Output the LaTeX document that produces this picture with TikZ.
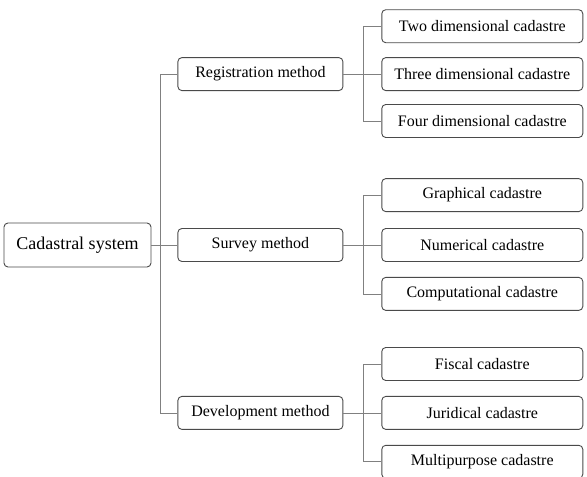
\documentclass[tikz,border=0pt]{standalone}
\usepackage{fontspec}
\setmainfont{Liberation Serif}
\usetikzlibrary{positioning}
\definecolor{cline}{HTML}{4A4A4A}
\definecolor{cedge}{HTML}{808080}
\tikzset{
  every picture/.style={line width=0.9pt},
  box/.style={draw=cline, rounded corners=4pt, align=center, inner sep=2pt, minimum height=33pt, font=\fontsize{16}{19}\selectfont},
  rootbox/.style={box, minimum width=147pt, minimum height=44pt, font=\fontsize{18}{21}\selectfont},
  midbox/.style={box, minimum width=165pt},
  leafbox/.style={box, minimum width=201pt},
  link/.style={draw=cedge, line width=0.8pt},
}

\begin{document}
\begin{tikzpicture}[node distance=15pt]
  \useasboundingbox (0pt,0pt) rectangle (587pt,-477pt);
  \node[rootbox] (root) at (77.5pt,-245pt) {Cadastral system};
  % second level
  \node[midbox, right=26pt of root] (sur) {Survey method};
  \node[midbox, above=137pt of sur] (reg) {Registration method};
  \node[midbox, below=134pt of sur] (dev) {Development method};
  % leaves
  \node[leafbox, right=38pt of reg] (reg2) {Three dimensional cadastre};
  \node[leafbox, above=14pt of reg2] (reg1) {Two dimensional cadastre};
  \node[leafbox, below=13pt of reg2] (reg3) {Four dimensional cadastre};
  \node[leafbox, right=38pt of sur] (sur2) {Numerical cadastre};
  \node[leafbox, above=16pt of sur2] (sur1) {Graphical cadastre};
  \node[leafbox, below=15pt of sur2] (sur3) {Computational cadastre};
  \node[leafbox, right=38pt of dev] (dev2) {Juridical cadastre};
  \node[leafbox, above=15pt of dev2] (dev1) {Fiscal cadastre};
  \node[leafbox, below=15pt of dev2] (dev3) {Multipurpose cadastre};
  % connectors
  \draw[link] (root) -- (sur);
  \draw[link] (reg.west) -- ++(-17pt,0) |- (dev.west);
  \foreach \g in {reg,sur,dev}{
    \draw[link] (\g) -- (\g2);
    \draw[link] (\g1.west) -- ++(-18pt,0) |- (\g3.west);
  }
\end{tikzpicture}
\end{document}
